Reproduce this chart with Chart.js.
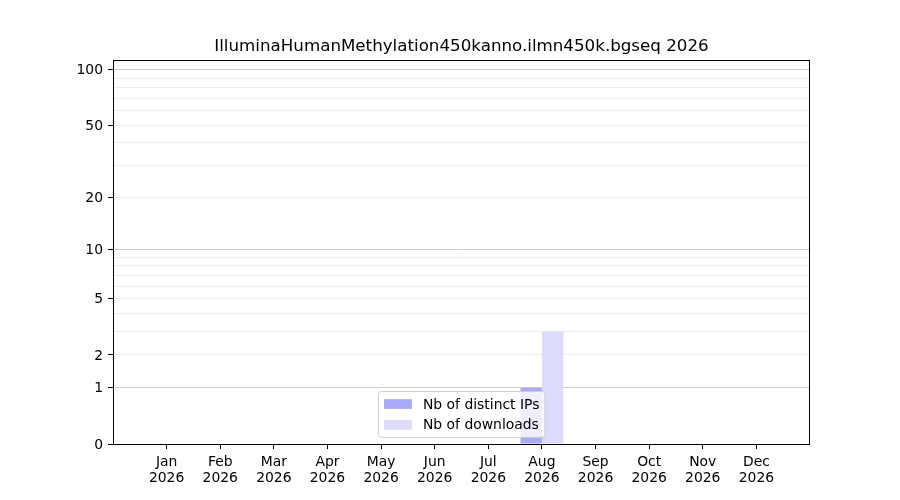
<!DOCTYPE html>
<html>
<head>
<meta charset="utf-8">
<script src="https://cdn.jsdelivr.net/npm/chart.js@4.4.1/dist/chart.umd.min.js"></script>
<style>
  html, body { margin: 0; padding: 0; background: #fff; }
  #wrap { width: 900px; height: 500px; }
</style>
</head>
<body>
<div id="wrap"><canvas id="chart" width="900" height="500"></canvas></div>
<script>
// Chart data
const chartTitle = "IlluminaHumanMethylation450kanno.ilmn450k.bgseq 2026";
const months = ["Jan", "Feb", "Mar", "Apr", "May", "Jun", "Jul", "Aug", "Sep", "Oct", "Nov", "Dec"];
const years = ["2026", "2026", "2026", "2026", "2026", "2026", "2026", "2026", "2026", "2026", "2026", "2026"];
const distinctIPs = [0, 0, 0, 0, 0, 0, 0, 1, 0, 0, 0, 0];
const downloads = [0, 0, 0, 0, 0, 0, 0, 3, 0, 0, 0, 0];
const yLabeledTicks = [0, 1, 2, 5, 10, 20, 50, 100];
const yMinorTicks = [3, 4, 6, 7, 8, 9, 30, 40, 60, 70, 80, 90];
const yMajorGrid = [1, 10, 100];
const yMax = 113;

const FONT = "DejaVu Sans";
const FS = 13.9; // 10pt at 100 dpi

// y axis scaled as log10(1 + v), like the reference
class Log1pScale extends Chart.LinearScale {
  buildTicks() {
    return yLabeledTicks.concat(yMinorTicks).sort((a, b) => a - b).map(v => ({ value: v }));
  }
  logBounds() {
    return [Math.log10(1 + this.min), Math.log10(1 + this.max)];
  }
  getPixelForValue(value) {
    const [lo, hi] = this.logBounds();
    return this.getPixelForDecimal((Math.log10(1 + value) - lo) / (hi - lo));
  }
  getValueForPixel(pixel) {
    const [lo, hi] = this.logBounds();
    return Math.pow(10, lo + this.getDecimalForPixel(pixel) * (hi - lo)) - 1;
  }
}
Log1pScale.id = "log1p";
Log1pScale.defaults = {};
Chart.register(Log1pScale);

// frame around the plot + matplotlib-style legend inside the axes
const framePlugin = {
  id: "framePlugin",
  afterDraw(chart) {
    const { ctx, chartArea: a } = chart;
    ctx.save();
    ctx.strokeStyle = "#000";
    ctx.lineWidth = 1;
    ctx.strokeRect(Math.round(a.left) + 0.5, Math.round(a.top) + 0.5,
      Math.round(a.right - a.left) - 1, Math.round(a.bottom - a.top));

    ctx.font = FS + "px '" + FONT + "'";
    const items = chart.data.datasets.map(d => ({ text: d.label, color: d.backgroundColor }));
    const textW = Math.max(...items.map(it => ctx.measureText(it.text).width));
    const pad = 0.4 * FS, handleW = 2 * FS, gap = 0.8 * FS, rowH = FS, spacing = 0.5 * FS;
    const w = pad * 2 + handleW + gap + textW;
    const h = pad * 2 + items.length * rowH + (items.length - 1) * spacing;
    const x = Math.round((a.left + a.right) / 2 - w / 2) + 0.5;
    const y = Math.round(a.bottom - 0.5 * FS - h) + 0.5;

    ctx.beginPath();
    ctx.roundRect(x, y, w, h, 3);
    ctx.fillStyle = "rgba(255,255,255,0.8)";
    ctx.fill();
    ctx.strokeStyle = "#cccccc";
    ctx.stroke();

    ctx.textBaseline = "middle";
    ctx.textAlign = "left";
    items.forEach((it, i) => {
      const cy = y + pad + i * (rowH + spacing) + rowH / 2;
      ctx.fillStyle = it.color;
      ctx.fillRect(x + pad, cy - 0.35 * FS, handleW, 0.7 * FS);
      ctx.fillStyle = "#000";
      ctx.fillText(it.text, x + pad + handleW + gap, cy + 1);
    });
    ctx.restore();
  }
};

Chart.defaults.color = "#000";
Chart.defaults.font.family = FONT;

new Chart(document.getElementById("chart"), {
  type: "bar",
  data: {
    datasets: [
      {
        label: "Nb of distinct IPs",
        data: distinctIPs.map((v, i) => ({ x: i, y: v })),
        backgroundColor: "#aaaafa",
        borderWidth: 0,
      },
      {
        label: "Nb of downloads",
        data: downloads.map((v, i) => ({ x: i, y: v })),
        backgroundColor: "#dcdcfa",
        borderWidth: 0,
      },
    ],
  },
  options: {
    responsive: false,
    animation: false,
    layout: { padding: { top: 37, right: 90, left: 0, bottom: 0 } },
    datasets: { bar: { categoryPercentage: 0.8, barPercentage: 1.0 } },
    scales: {
      x: {
        type: "linear",
        min: -1,
        max: 12,
        offset: false,
        afterBuildTicks: (scale) => { scale.ticks = months.map((m, i) => ({ value: i })); },
        afterFit: (scale) => { scale.height = 56; },
        grid: { offset: false, drawOnChartArea: false, drawTicks: true, tickLength: 5, tickColor: "#000" },
        border: { display: false },
        ticks: {
          autoSkip: false,
          maxRotation: 0,
          padding: 5,
          font: { size: FS, lineHeight: 1.15 },
          callback: (v, i) => [months[i], years[i]],
        },
      },
      y: {
        type: "log1p",
        min: 0,
        max: yMax,
        afterFit: (scale) => { scale.width = 113; },
        grid: {
          lineWidth: 1,
          tickLength: 5,
          color: (c) => yMajorGrid.includes(c.tick.value) ? "#cccccc" : "#ececec",
          tickColor: (c) => yLabeledTicks.includes(c.tick.value) ? "#000" : "rgba(0,0,0,0)",
        },
        border: { display: false },
        ticks: {
          autoSkip: false,
          padding: 5,
          labelOffset: 1,
          font: { size: FS },
          callback: (v) => yLabeledTicks.includes(v) ? String(v) : "",
        },
      },
    },
    plugins: {
      legend: { display: false },
      tooltip: { enabled: false },
      title: {
        display: true,
        text: chartTitle,
        fullSize: false,
        color: "#000",
        font: { size: 16.7, weight: "normal", lineHeight: 1.2 },
        padding: { top: 0, bottom: 3 },
      },
    },
  },
  plugins: [framePlugin],
});
</script>
</body>
</html>
